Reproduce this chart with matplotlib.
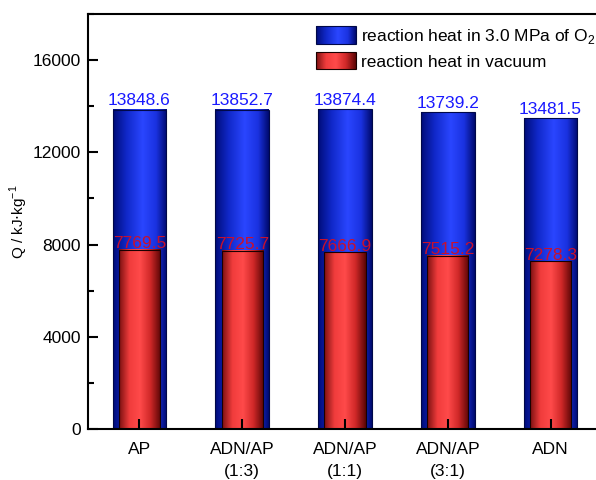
import numpy as np
import matplotlib
matplotlib.use('Agg')
import matplotlib.pyplot as plt
from matplotlib.colors import LinearSegmentedColormap
from matplotlib.legend_handler import HandlerBase
from matplotlib.patches import Rectangle
from matplotlib.ticker import MultipleLocator

samples = ['AP', 'ADN/AP\n(1:3)', 'ADN/AP\n(1:1)', 'ADN/AP\n(3:1)', 'ADN']
heat_o2 = [13848.6, 13852.7, 13874.4, 13739.2, 13481.5]
heat_vac = [7769.5, 7725.7, 7666.9, 7515.2, 7278.3]

plt.rcParams['font.family'] = ['Liberation Sans', 'DejaVu Sans']
plt.rcParams['font.size'] = 12.5

# cylinder-like shading across each bar
blue_cmap = LinearSegmentedColormap.from_list(
    'blue_cyl', [(0, '#000c78'), (0.25, '#1028c8'), (0.55, '#2a46ff'),
                 (0.8, '#1a32e0'), (1, '#000a6e')])
red_cmap = LinearSegmentedColormap.from_list(
    'red_cyl', [(0, '#7a1010'), (0.25, '#f03c3c'), (0.5, '#ff4a4a'),
                (0.75, '#d02828'), (1, '#5a0505')])
grad = np.linspace(0, 1, 256).reshape(1, -1)


def shade(ax, bars, cmap, z):
    for b in bars:
        x, y, w, h = b.get_x(), b.get_y(), b.get_width(), b.get_height()
        ax.imshow(grad, cmap=cmap, extent=(x, x + w, y, y + h),
                  aspect='auto', interpolation='bilinear', zorder=z)


class GradHandler(HandlerBase):
    def __init__(self, cmap, edge):
        super().__init__()
        self.cmap = cmap
        self.edge = edge

    def create_artists(self, legend, orig_handle, xdescent, ydescent,
                       width, height, fontsize, trans):
        n = 40
        arts = []
        for i in range(n):
            arts.append(Rectangle((-xdescent + width * i / n, -ydescent),
                                  width / n * 1.1, height,
                                  facecolor=self.cmap((i + 0.5) / n),
                                  edgecolor='none', transform=trans))
        arts.append(Rectangle((-xdescent, -ydescent), width, height,
                              facecolor='none', edgecolor=self.edge,
                              lw=0.8, transform=trans))
        return arts


fig = plt.figure(figsize=(5.96, 4.8), dpi=100)
ax = fig.add_axes([88 / 596, 51 / 480, 514 / 596, 415 / 480])

x = np.arange(len(samples))
bars_o2 = ax.bar(x, heat_o2, width=0.52, facecolor='none',
                 edgecolor='#000848', lw=0.8, zorder=1.2,
                 label='reaction heat in 3.0 MPa of O$_\\mathregular{2}$')
bars_vac = ax.bar(x, heat_vac, width=0.40, facecolor='none',
                  edgecolor='#1a0000', lw=0.8, zorder=1.4,
                  label='reaction heat in vacuum')
shade(ax, bars_o2, blue_cmap, 1.1)
shade(ax, bars_vac, red_cmap, 1.3)

for xi, v in zip(x, heat_o2):
    ax.text(xi, v + 60, f'{v:.1f}', ha='center', va='bottom',
            color='#1a1aff', fontsize=12.5, zorder=3)
for xi, v in zip(x, heat_vac):
    ax.text(xi, v - 60, f'{v:.1f}', ha='center', va='bottom',
            color='#c8102e', fontsize=12.5, zorder=3)

ax.set_xlim(-0.5, 4.5)
ax.set_ylim(0, 18000)
ax.set_xticks(x)
ax.set_xticklabels(samples, linespacing=1.6)
ax.yaxis.set_major_locator(MultipleLocator(4000))
ax.yaxis.set_minor_locator(MultipleLocator(2000))
ax.tick_params(axis='both', which='both', direction='in', width=1.5)
ax.tick_params(axis='y', which='major', length=7, pad=5)
ax.tick_params(axis='x', which='major', length=7, pad=9)
ax.tick_params(axis='y', which='minor', length=4)
ax.tick_params(axis='x', which='minor', bottom=False)
for s in ['left', 'bottom', 'top']:
    ax.spines[s].set_linewidth(1.5)
ax.spines['right'].set_visible(False)

ax.set_ylabel('Q / kJ$\\cdot$kg$^{\\mathregular{-1}}$', fontsize=11, labelpad=2)

ax.legend(handles=[bars_o2, bars_vac],
          handler_map={bars_o2: GradHandler(blue_cmap, '#000848'),
                       bars_vac: GradHandler(red_cmap, '#1a0000')},
          loc='upper left', bbox_to_anchor=(0.423, 0.995), frameon=False,
          handlelength=2.3, handleheight=1.15, handletextpad=0.3,
          labelspacing=0.35, borderaxespad=0.2, fontsize=12.5)

fig.savefig('out.png', dpi=100)
